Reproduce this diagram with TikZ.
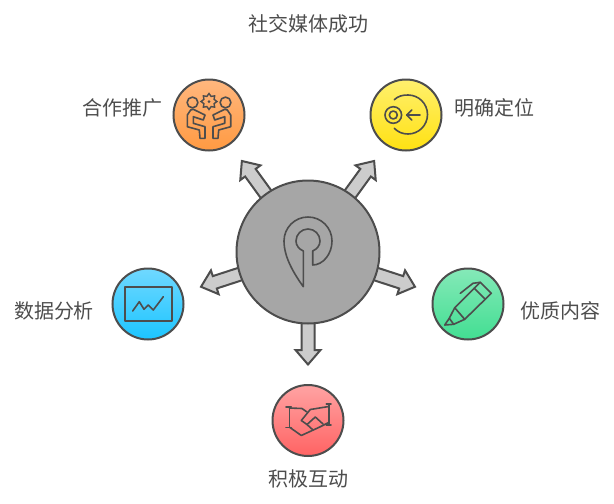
\documentclass[tikz,border=0pt]{standalone}
\usepackage{fontspec}
\newfontfamily\cjkfont{Noto Sans CJK SC}
\usetikzlibrary{shapes.geometric}
\definecolor{inkgray}{HTML}{4D4D4D}
\definecolor{orangetop}{HTML}{FFB77E}
\definecolor{orangeend}{HTML}{FF9A42}
\definecolor{yellowtop}{HTML}{FFF06E}
\definecolor{yellowend}{HTML}{FFE112}
\definecolor{bluetop}{HTML}{70D8FF}
\definecolor{blueend}{HTML}{1CC5FF}
\definecolor{greentop}{HTML}{85E9B8}
\definecolor{greenend}{HTML}{42DE92}
\definecolor{redtop}{HTML}{FFA3A3}
\definecolor{redend}{HTML}{FF6363}
\tikzset{
    ball/.style={circle,draw=inkgray,line width=2pt,minimum size=71pt,inner sep=0pt},
    glyph/.style={draw=inkgray,line width=1.6pt,line join=round,line cap=round},
    caption/.style={text=inkgray,font=\cjkfont\fontsize{20}{24}\selectfont,inner sep=0pt},
    blockarrow/.pic={
        \draw[draw=inkgray,fill=black!20,line width=2pt,line join=miter] (60,-6.5) -- (98,-6.5) -- (98,-12.5) -- (112.5,0) -- (98,12.5) -- (98,6.5) -- (60,6.5) -- cycle;
    }
}

\begin{document}
\begin{tikzpicture}[x=1pt,y=-1pt]
    \useasboundingbox (0,0) rectangle (614,504);
    \coordinate (center) at (308,252);

    \pic[rotate=54] at (center) {blockarrow};
    \pic[rotate=126] at (center) {blockarrow};
    \pic[rotate=198] at (center) {blockarrow};
    \pic[rotate=270] at (center) {blockarrow};
    \pic[rotate=342] at (center) {blockarrow};

    \node[ball,fill=black!35,minimum size=143pt] (hub) at (center) {};
    \node[ball,top color=orangetop,bottom color=orangeend] (partner) at (209,115) {};
    \node[ball,top color=yellowtop,bottom color=yellowend] (focus) at (406,115) {};
    \node[ball,top color=bluetop,bottom color=blueend] (data) at (148,304) {};
    \node[ball,top color=greentop,bottom color=greenend] (content) at (468,304) {};
    \node[ball,top color=redtop,bottom color=redend] (engage) at (308,420.5) {};

    \node[caption] (goal) at (308,24) {社交媒体成功};
    \node[caption] (partnerlabel) at (122.5,108) {合作推广};
    \node[caption] (focuslabel) at (494,108) {明确定位};
    \node[caption] (datalabel) at (54,311) {数据分析};
    \node[caption] (contentlabel) at (560,311) {优质内容};
    \node[caption] (engagelabel) at (308,479) {积极互动};

    % hub
    \draw[glyph] (303.3,286.7) .. controls (295,275) and (284,258) .. (284,241) .. controls (284,227.75) and (294.75,217) .. (308,217) .. controls (321.25,217) and (332,227.75) .. (332,241) .. controls (332,254) and (323,265) .. (312.7,265) -- (312.7,251) .. controls (317,249) and (320,245.5) .. (320,241) .. controls (320,234.4) and (314.6,229) .. (308,229) .. controls (301.4,229) and (296,234.4) .. (296,241) .. controls (296,245.5) and (299,249) .. (303.3,251) -- cycle;

    % partner
    \begin{scope}[shift={(partner.center)}]
        \draw[glyph] (-16.5,-12.5) circle (5.4);
        \draw[glyph] (16.5,-12.5) circle (5.4);
        \node[star,star points=8,star point ratio=1.45,draw=inkgray,line width=1.4pt,minimum size=16pt,inner sep=0pt] (gear) at (0,-13.5) {};
        \node[circle,fill=inkgray,minimum size=3pt,inner sep=0pt] (gearhole) at (gear.center) {};
        \draw[glyph] (-18.3,-5) -- (-21.7,0) -- (-21.7,11.7) -- (-9.7,15) -- (-9,23.3) -- (-4,23.3) -- (-4,11.7) -- (-15.7,8.3) -- (-15.7,1.7) -- (-5.7,5) -- (-4,0) -- (-15.7,-5.7) -- cycle;
        \draw[glyph] (18.3,-5) -- (21.7,0) -- (21.7,11.7) -- (9.7,15) -- (9,23.3) -- (4,23.3) -- (4,11.7) -- (15.7,8.3) -- (15.7,1.7) -- (5.7,5) -- (4,0) -- (15.7,-5.7) -- cycle;
    \end{scope}

    % focus
    \begin{scope}[shift={(focus.center)}]
        \draw[glyph] (-12.7,0) circle (8.3);
        \draw[glyph] (-12.7,0) circle (4);
        \draw[glyph] (-11.7,-15.3) .. controls (-7.8,-19) and (-3.4,-20) .. (2,-20) .. controls (12.8,-20) and (21.5,-11.3) .. (21.5,-0.5) .. controls (21.5,10.3) and (12.8,19) .. (2,19) .. controls (-3.4,19) and (-7.8,17.2) .. (-11.7,13.3);
        \draw[glyph] (14,0) -- (0.7,0);
        \draw[glyph] (5.7,-5) -- (0.7,0) -- (5.7,5);
    \end{scope}

    % data
    \begin{scope}[shift={(data.center)}]
        \draw[glyph] (-23,-17.3) rectangle (23.7,16.7);
        \draw[glyph] (-15.3,7) -- (-8.7,-2.3) -- (-4,5.3) -- (0.3,1) -- (5.3,6) -- (15.3,-7.3);
    \end{scope}

    % content
    \begin{scope}[shift={(content.center)}]
        \draw[glyph] (-13.3,3.7) -- (-3.3,15.3) -- (23.3,-10.7) -- (12.3,-21.7) -- cycle;
        \draw[glyph] (6.3,-15.7) -- (17.3,-4.7);
        \draw[glyph] (-13.3,3.7) -- (-18.7,14.3) -- (-23.3,21) -- (-14.3,20.3) -- (-3.3,15.3);
        \draw[glyph] (-18.7,14.3) -- (-14.3,20.3);
        \draw[glyph] (12.3,-21.7) -- (5,-20.7) -- (-7.7,-10.7);
    \end{scope}

    % engage
    \begin{scope}[shift={(engage.center)}]
        \draw[glyph] (-22,-13.5) -- (-16.7,-13.5) (-22,7) -- (-16.7,7) (-18.7,-13.5) -- (-18.7,7);
        \draw[glyph] (18.3,-16.5) -- (23,-16.5) (18.3,4.7) -- (23,4.7) (20.7,-16.5) -- (20.7,4.7);
        \draw[glyph] (-18.7,-12.5) -- (-6,-12) -- (-1,-8.5);
        \draw[glyph] (-18,7) -- (-6.7,15) -- (10.7,7) -- (20.7,2);
        \draw[glyph] (20.7,-14) -- (2.3,-11) -- (-6.7,0) -- (-1,4) -- (7.3,-3.5) -- (15,3.5);
        \draw[glyph] (-1,4) -- (5,9.5);
    \end{scope}
\end{tikzpicture}
\end{document}
